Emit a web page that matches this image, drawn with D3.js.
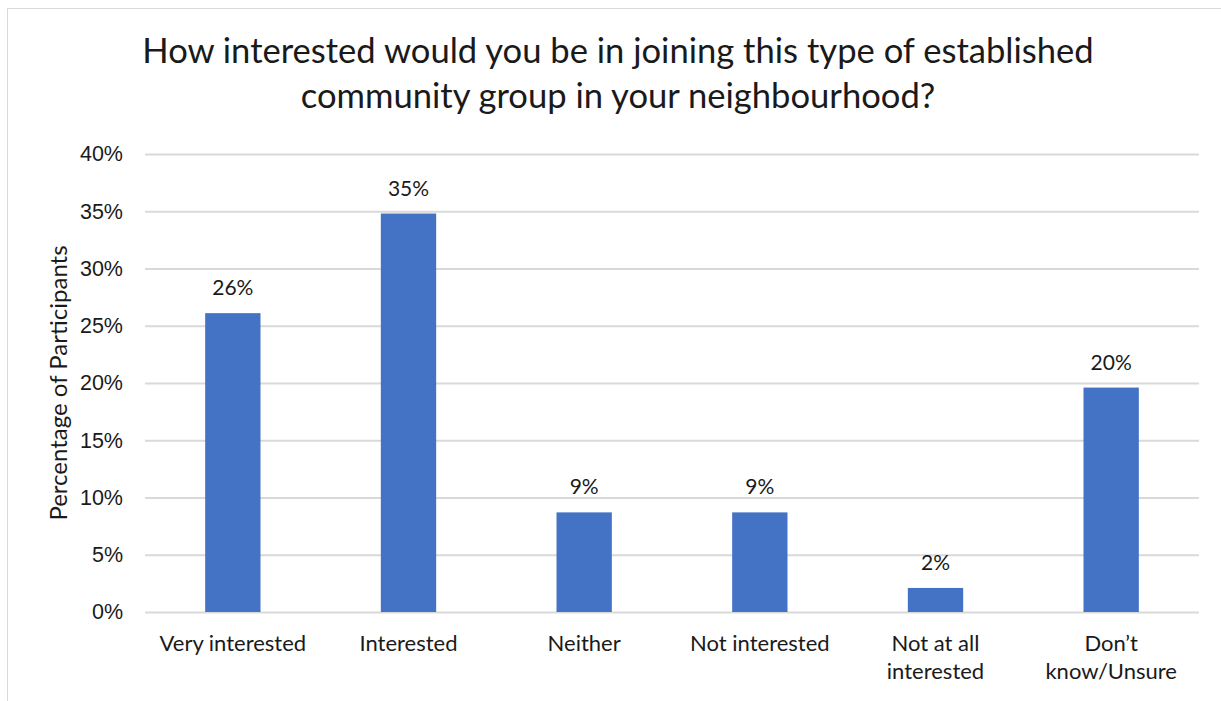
<!DOCTYPE html>
<html>
<head>
<meta charset="utf-8">
<script src="https://cdn.jsdelivr.net/npm/d3@7"></script>
<style>
  html, body { margin: 0; padding: 0; background: #fff; }
  svg { display: block; font-family: Lato, "Open Sans", sans-serif; }
</style>
</head>
<body>
<svg id="chart" width="1221" height="701"></svg>
<script>
// Survey responses: share of participants per interest level
const categories = [
  ["Very interested"],
  ["Interested"],
  ["Neither"],
  ["Not interested"],
  ["Not at all", "interested"],
  ["Don\u2019t", "know/Unsure"]
];
const values = [0.261, 0.348, 0.087, 0.087, 0.021, 0.196];
const yTicks = [0, 0.05, 0.10, 0.15, 0.20, 0.25, 0.30, 0.35, 0.40];
const titleLines = [
  "How interested would you be in joining this type of established",
  "community group in your neighbourhood?"
];
const yAxisTitle = "Percentage of Participants";

const svg = d3.select("#chart");
const W = 1221, H = 701;
const margin = { left: 145, right: 22, top: 154, bottom: 89 };

// Outer chart-area frame
svg.append("rect")
  .attr("x", 7.5).attr("y", 8.5)
  .attr("width", W + 10).attr("height", H + 10)
  .attr("fill", "#fff").attr("stroke", "#d9d9d9").attr("stroke-width", 1);

const x = d3.scaleBand()
  .domain(d3.range(categories.length))
  .range([margin.left, W - margin.right])
  .paddingInner(0.685).paddingOuter(0.3425);

const y = d3.scaleLinear()
  .domain([0, 0.40])
  .range([H - margin.bottom, margin.top]);

// Horizontal gridlines
const yAxis = d3.axisLeft(y)
  .tickValues(yTicks)
  .tickFormat(d3.format(".0%"))
  .tickSize(-(W - margin.right - margin.left))
  .tickPadding(22);

const gy = svg.append("g")
  .attr("transform", `translate(${margin.left},0)`)
  .call(yAxis);
gy.select(".domain").remove();
gy.selectAll(".tick line").attr("stroke", "#d9d9d9").attr("stroke-width", 2);
gy.selectAll(".tick text")
  .attr("fill", "#1a1a1a")
  .style("font-size", "21.5px");

// Bars
svg.append("g").selectAll("rect")
  .data(values)
  .join("rect")
  .attr("x", (d, i) => x(i))
  .attr("width", x.bandwidth())
  .attr("y", d => y(d))
  .attr("height", d => y(0) - y(d))
  .attr("fill", "#4472c4");

// Value labels
svg.append("g").selectAll("text")
  .data(values)
  .join("text")
  .attr("x", (d, i) => x(i) + x.bandwidth() / 2)
  .attr("y", d => y(d) - 18)
  .attr("text-anchor", "middle")
  .attr("fill", "#1a1a1a")
  .style("font-size", "21px")
  .text(d => d3.format(".0%")(d));

// Category labels (wrapped)
const xl = svg.append("g").selectAll("text")
  .data(categories)
  .join("text")
  .attr("text-anchor", "middle")
  .attr("fill", "#1a1a1a")
  .style("font-size", "22px")
  .attr("transform", (d, i) => `translate(${x(i) + x.bandwidth() / 2},${y(0) + 39})`);
xl.selectAll("tspan")
  .data(d => d)
  .join("tspan")
  .attr("x", 0)
  .attr("dy", (d, j) => j === 0 ? 0 : 28)
  .text(d => d);

// Y axis title
svg.append("text")
  .attr("transform", `translate(67,${(y(0) + y(0.40)) / 2}) rotate(-90)`)
  .attr("text-anchor", "middle")
  .attr("fill", "#1a1a1a")
  .style("font-size", "24px")
  .text(yAxisTitle);

// Chart title
svg.append("g").selectAll("text")
  .data(titleLines)
  .join("text")
  .attr("x", 618)
  .attr("y", (d, i) => 63 + i * 45)
  .attr("text-anchor", "middle")
  .attr("fill", "#1a1a1a")
  .style("font-size", "34.6px")
  .text(d => d);
</script>
</body>
</html>
